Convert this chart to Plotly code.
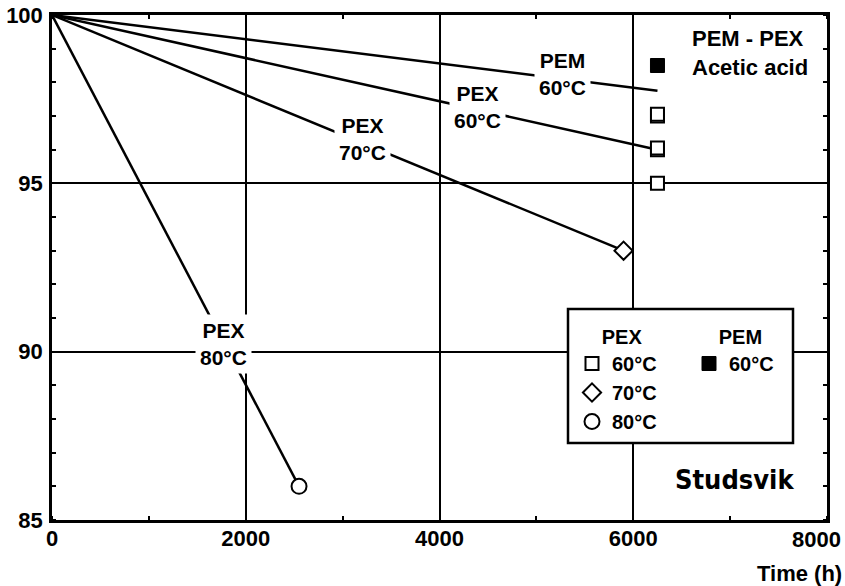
import plotly.graph_objects as go

# ---------------- data ----------------
# measured points (Time h, retained property %)
pex60_x = [6250, 6250, 6250, 6250, 6250]
pex60_y = [97.0, 97.05, 96.0, 96.05, 95.0]
pex70_x = [5900]
pex70_y = [93.0]
pex80_x = [2550]
pex80_y = [86.0]
pem60_x = [6250]
pem60_y = [98.5]

# trend lines from the origin
pem60_line_x = [0, 6250]
pem60_line_y = [100, 97.75]
pex60_line_x = [0, 6250]
pex60_line_y = [100, 96.0]
pex70_line_x = [0, 5900]
pex70_line_y = [100, 93.0]
pex80_line_x = [0, 2550]
pex80_line_y = [100, 86.0]

x_ticks = [0, 2000, 4000, 6000, 8000]
x_ticklabels = ["0", "2000", "4000", "6000", "8000"]
y_ticks = [85, 90, 95, 100]
y_ticklabels = ["85", "90", "95", "100"]

legend_names_pex = ["60°C", "70°C", "80°C"]
legend_names_pem = ["60°C"]

# line labels: (text, x, y)
line_labels = [
    ("PEM<br>60°C", 5265, 98.26),
    ("PEX<br>60°C", 4390, 97.27),
    ("PEX<br>70°C", 3205, 96.32),
    ("PEX<br>80°C", 1775, 90.22),
]

FONT = "Liberation Sans, Arial, Helvetica, sans-serif"
W = 845
H = 586
L, R, T, B = 52, 18, 15, 66

fig = go.Figure()

for lx, ly in [(pem60_line_x, pem60_line_y), (pex60_line_x, pex60_line_y),
               (pex70_line_x, pex70_line_y), (pex80_line_x, pex80_line_y)]:
    fig.add_trace(go.Scatter(x=lx, y=ly, mode="lines",
                             line=dict(color="black", width=2.5),
                             showlegend=False, hoverinfo="skip"))

mk_line = dict(color="black", width=2)
fig.add_trace(go.Scatter(x=pex60_x, y=pex60_y, mode="markers", name=legend_names_pex[0],
                         marker=dict(symbol="square", size=13, color="white", line=mk_line),
                         legend="legend"))
fig.add_trace(go.Scatter(x=pex70_x, y=pex70_y, mode="markers", name=legend_names_pex[1],
                         marker=dict(symbol="diamond", size=14, color="white", line=mk_line),
                         legend="legend"))
fig.add_trace(go.Scatter(x=pex80_x, y=pex80_y, mode="markers", name=legend_names_pex[2],
                         marker=dict(symbol="circle", size=15, color="white", line=mk_line),
                         legend="legend"))
fig.add_trace(go.Scatter(x=pem60_x, y=pem60_y, mode="markers", name=legend_names_pem[0],
                         marker=dict(symbol="square", size=14, color="black",
                                     line=dict(color="black", width=1)),
                         legend="legend2"))

annotations = []
for txt, ax, ay in line_labels:
    annotations.append(dict(x=ax, y=ay, xref="x", yref="y", text=txt, showarrow=False,
                            font=dict(family=FONT, size=21, color="black", weight="bold"),
                            bgcolor="white", borderpad=4, align="center"))

pw = W - L - R
ph = H - T - B


def px_to_paper(px, py):
    return (px - L) / pw, (H - B - py) / ph


ax_, ay_ = px_to_paper(690, 53)
annotations.append(dict(x=ax_, y=ay_, xref="paper", yref="paper", xanchor="left",
                        yanchor="middle", align="left", showarrow=False,
                        text="PEM - PEX<br>Acetic acid",
                        font=dict(family=FONT, size=22, color="black", weight="bold")))

sx, sy = px_to_paper(734, 479)
annotations.append(dict(x=sx, y=sy, xref="paper", yref="paper", xanchor="center",
                        yanchor="middle", showarrow=False, text="Studsvik",
                        font=dict(family="DejaVu Sans Condensed, Liberation Sans Narrow, Liberation Sans",
                                  size=27, color="black", weight="bold")))

tx, ty = px_to_paper(844, 573)
annotations.append(dict(x=tx, y=ty, xref="paper", yref="paper", xanchor="right",
                        yanchor="middle", showarrow=False, text="Time (h)",
                        font=dict(family=FONT, size=22, color="black", weight="bold")))

# last x tick label sits flush with the right edge in the original
_, ly8 = px_to_paper(0, 539)
annotations.append(dict(x=x_ticks[-1], y=ly8, xref="x", yref="paper", xanchor="right",
                        yanchor="middle", xshift=16, showarrow=False, text=x_ticklabels[-1],
                        font=dict(family=FONT, size=22, color="black", weight="bold")))

bx0, by0 = px_to_paper(568, 443)
bx1, by1 = px_to_paper(793, 309)

l1x, l1y = px_to_paper(572, 318)
l2x, l2y = px_to_paper(689, 318)

legend_common = dict(font=dict(family=FONT, size=20, color="black", weight="bold"),
                     bgcolor="rgba(0,0,0,0)", borderwidth=0,
                     xanchor="left", yanchor="top", xref="paper", yref="paper",
                     tracegroupgap=0, itemclick=False)

axis_common = dict(showline=True, linecolor="black", linewidth=2.5, mirror="allticks",
                   showgrid=True, gridcolor="black", gridwidth=2, zeroline=False,
                   ticks="", tickfont=dict(family=FONT, size=22, color="black", weight="bold"),
                   automargin=False)

fig.update_layout(
    width=W, height=H,
    margin=dict(l=L, r=R, t=T, b=B, pad=0),
    paper_bgcolor="white", plot_bgcolor="white",
    xaxis=dict(range=[0, 8000], tickvals=x_ticks,
               ticktext=x_ticklabels[:-1] + [""],
               ticklabelstandoff=-3,
               minor=dict(ticks="inside", ticklen=4, tickwidth=2, tickcolor="black",
                          dtick=1000, showgrid=False),
               **axis_common),
    yaxis=dict(range=[85, 100], tickvals=y_ticks, ticktext=y_ticklabels,
               ticklabelstandoff=2,
               minor=dict(ticks="inside", ticklen=4, tickwidth=2, tickcolor="black",
                          dtick=1, showgrid=False),
               **axis_common),
    legend=dict(x=l1x, y=l1y, title=dict(text="&nbsp;&nbsp;&nbsp;&nbsp;&nbsp;PEX",
                                         font=dict(family=FONT, size=20, color="black", weight="bold")),
                **legend_common),
    legend2=dict(x=l2x, y=l2y, title=dict(text="&nbsp;&nbsp;&nbsp;&nbsp;&nbsp;PEM",
                                          font=dict(family=FONT, size=20, color="black", weight="bold")),
                 **legend_common),
    shapes=[dict(type="rect", xref="paper", yref="paper", x0=bx0, y0=by0, x1=bx1, y1=by1,
                 fillcolor="white", line=dict(color="black", width=2.5), layer="above")],
    annotations=annotations,
    showlegend=True,
)

fig.write_html("out.html")
